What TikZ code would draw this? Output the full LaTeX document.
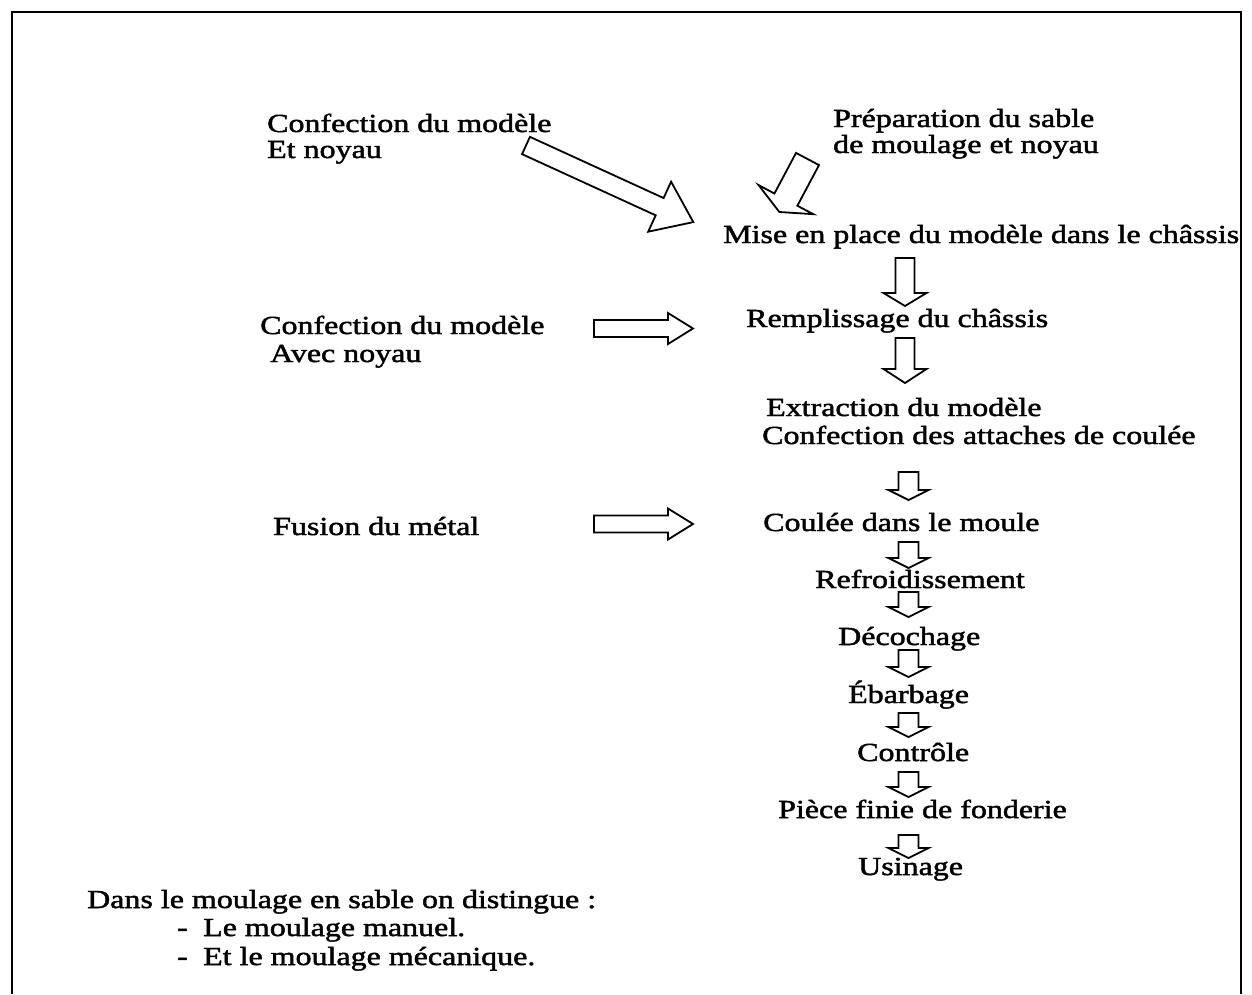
\documentclass[tikz,border=0pt]{standalone}
\usepackage{fontspec}
\setmainfont{Liberation Serif}[FakeStretch=1.23,FakeBold=1.8]
\begin{document}
\begin{tikzpicture}[x=1pt,y=-1pt,
  lbl/.style={anchor=base west,inner sep=0pt,font=\fontsize{26}{29}\selectfont},
  frameline/.style={line width=2pt},
  outline/.style={draw=black,line width=1.8pt,fill=white,line join=miter},
  % block arrow: length / shaft width / head width / head length
  pics/barrow/.style args={#1/#2/#3/#4}{code={
    \draw[outline] (0,-#2/2) -- (#1-#4,-#2/2) -- (#1-#4,-#3/2) -- (#1,0)
      -- (#1-#4,#3/2) -- (#1-#4,#2/2) -- (0,#2/2) -- cycle;}}]
\useasboundingbox (0,0) rectangle (1252,994);

% open frame
\draw[frameline] (12,994) -- (12,12) -- (1241,12) -- (1241,994);

% inputs on the left
\node[lbl] (cm1a) at (267,132) {Confection du modèle};
\node[lbl] (cm1b) at (267,158) {Et noyau};
\node[lbl] (cm2a) at (260,334) {Confection du modèle};
\node[lbl] (cm2b) at (270,362) {Avec noyau};
\node[lbl] (fus)  at (273,535) {Fusion du métal};

% sand preparation
\node[lbl] (prepa) at (833,127) {Préparation du sable};
\node[lbl] (prepb) at (833,153) {de moulage et noyau};

% main process chain
\node[lbl] (mise)  at (723,243) {Mise en place du modèle dans le châssis};
\node[lbl] (rempl) at (746,327) {Remplissage du châssis};
\node[lbl] (extra) at (766,416) {Extraction du modèle};
\node[lbl] (attac) at (762,444) {Confection des attaches de coulée};
\node[lbl] (coul)  at (763,531) {Coulée dans le moule};
\node[lbl] (refr)  at (815,588) {Refroidissement};
\node[lbl] (deco)  at (838,645) {Décochage};
\node[lbl] (ebar)  at (848,703) {Ébarbage};
\node[lbl] (ctrl)  at (857,761) {Contrôle};
\node[lbl] (piece) at (778,818) {Pièce finie de fonderie};
\node[lbl] (usin)  at (858,875) {Usinage};

% note at the bottom
\node[lbl] (note)  at (87,908)  {Dans le moulage en sable on distingue :};
\node[lbl] (dash1) at (177,936) {-};
\node[lbl] (man)   at (203,936) {Le moulage manuel.};
\node[lbl] (dash2) at (177,965) {-};
\node[lbl] (meca)  at (203,965) {Et le moulage mécanique.};

% block arrows
\pic[rotate=-24.6] at (526,145.5) {barrow={184/19/55/37}};
\pic[rotate=-118]  at (807.5,159) {barrow={60/26/62/14}};
\pic at (594,328.5) {barrow={99/17/31/25}};
\pic at (594,524)   {barrow={99/17/31/25}};

\pic[rotate=-90] at (905,258)   {barrow={48/19/43/13}};
\pic[rotate=-90] at (905,338)   {barrow={45/19/43/14}};
\pic[rotate=-90] at (908.5,472) {barrow={28/20/40/10}};
\pic[rotate=-90] at (908.5,542) {barrow={26/20/40/10}};
\pic[rotate=-90] at (908.5,592) {barrow={25/20/40/10}};
\pic[rotate=-90] at (908.5,650) {barrow={27/20/40/10}};
\pic[rotate=-90] at (908.5,713) {barrow={24/20/40/10}};
\pic[rotate=-90] at (908.5,772) {barrow={25/20/40/10}};
\pic[rotate=-90] at (908.5,835) {barrow={23/20/40/10}};
\end{tikzpicture}
\end{document}
